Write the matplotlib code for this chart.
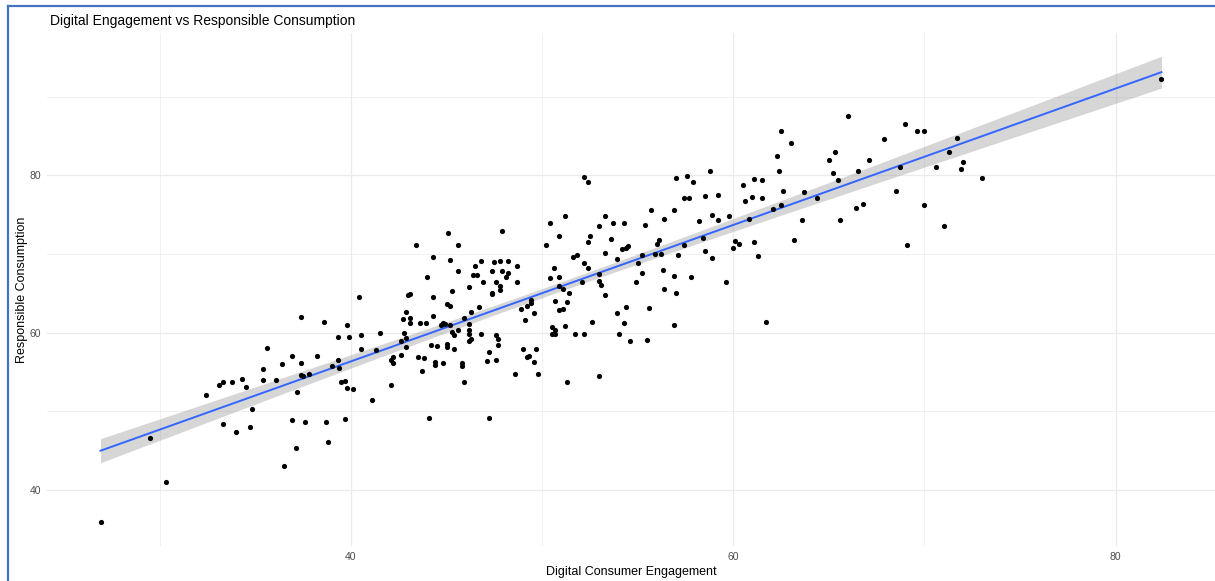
import numpy as np
import matplotlib
matplotlib.use("Agg")
import matplotlib.pyplot as plt
import matplotlib.lines as mlines

plt.rcParams['font.family'] = ['Liberation Sans', 'DejaVu Sans']

# Digital Consumer Engagement / Responsible Consumption
engagement = [
    26.9, 29.5, 30.3, 32.4, 33.1, 33.3, 33.8, 34.3, 34.5, 33.3, 34.0, 34.7, 34.8, 35.4, 35.6, 35.4, 36.1, 36.4, 36.5,
    37.1, 38.8,
    43.4, 40.4, 43.0, 43.1, 37.4, 38.6, 39.8, 42.9, 42.7, 43.1, 43.1, 43.6, 39.3, 39.9, 40.5, 41.5, 42.8, 42.6, 42.9,
    42.9, 40.5, 41.3, 36.9, 38.2, 37.4, 39.3, 39.0, 39.4, 42.6, 42.1, 42.2, 42.2, 43.5, 37.4, 37.5, 37.8, 37.2, 39.5,
    39.7, 39.8, 40.1, 42.1, 41.1, 36.9, 37.6, 38.7, 39.7,
    45.1, 47.9, 45.6, 44.3, 45.2, 46.8, 47.5, 47.8, 48.2, 46.5, 44.0, 45.6, 46.4, 46.6, 47.4, 47.9, 48.2, 48.1, 48.7,
    46.9, 47.6, 48.7, 46.2, 47.8, 47.8, 47.4, 47.4, 45.3, 44.3, 45.0, 45.2, 46.7, 44.3, 46.3, 45.9, 43.9, 44.8, 44.9,
    44.7, 46.2, 45.2,
    45.3, 45.4, 45.6, 46.2, 46.2, 46.8, 47.6, 47.7, 47.7, 46.2, 46.3, 44.2, 44.5, 45.0, 45.0, 45.4, 47.2, 43.8, 44.4,
    44.4, 44.8, 45.8, 45.8, 47.1, 47.6, 43.7, 45.9, 48.6, 44.1, 47.2,
    52.2, 52.4, 50.4, 51.2, 53.3, 53.0, 53.7, 50.9, 52.5, 52.4, 53.6, 50.2, 53.3, 53.9, 51.6, 51.8, 52.2, 52.4, 50.6,
    50.4, 50.9, 53.0,
    50.9, 51.1, 52.1, 53.0, 53.1, 51.4, 53.3, 49.4, 49.4, 49.2, 48.9, 50.7, 51.3, 50.9, 51.1, 49.6, 49.1, 53.9, 52.6,
    51.2, 50.5, 50.7, 50.5, 50.7, 51.7, 52.2, 54.0, 49.0, 49.7, 49.2, 49.3, 49.6, 49.8, 51.3, 53.0,
    57.0, 57.6, 57.9, 58.8, 57.4, 57.7, 58.5, 59.2, 55.7, 56.9, 56.4, 54.3, 55.4, 58.2, 58.9, 59.2, 54.2, 54.4, 54.5,
    56.0, 56.1, 58.4, 57.4, 58.5, 58.9, 55.2, 55.9, 56.2, 57.1, 55.0, 54.9, 55.2, 56.3, 56.9, 57.8, 56.4, 57.0, 54.4,
    55.6, 54.3, 56.9, 54.6, 55.5,
    66.0, 62.5, 63.0, 62.3, 62.4, 65.3, 65.0, 65.2, 67.1, 66.5, 65.5, 61.1, 61.5, 60.5, 60.6, 61.0, 61.5, 62.6, 63.7,
    64.4, 62.5, 62.1, 60.8, 59.8, 63.6, 65.6, 66.4, 66.8, 60.1, 60.3, 60.0, 61.1, 61.3, 63.2, 59.6, 61.7,
    69.0, 69.6, 70.0, 67.9, 68.7, 71.7, 71.3, 70.6, 72.0, 71.9, 73.0, 68.5, 70.0, 71.0, 69.1,
    82.4,
]
consumption = [
    35.9, 46.6, 41.0, 52.1, 53.3, 53.7, 53.7, 54.1, 53.1, 48.4, 47.4, 48.0, 50.3, 55.4, 58.1, 54.0, 54.0, 56.0, 43.1,
    45.4, 46.1,
    71.2, 64.5, 64.8, 64.9, 62.0, 61.4, 61.0, 62.7, 61.8, 61.9, 61.3, 61.3, 59.4, 59.5, 59.7, 60.0, 60.0, 58.9, 59.3,
    58.2, 57.9, 57.8, 57.1, 57.1, 56.2, 56.5, 55.8, 55.5, 57.2, 56.6, 56.9, 56.2, 56.9, 54.6, 54.5, 54.7, 52.5, 53.8,
    53.9, 53.0, 52.9, 53.4, 51.5, 48.9, 48.6, 48.7, 49.1,
    72.7, 72.9, 71.2, 69.6, 69.2, 69.1, 69.0, 69.1, 69.1, 68.5, 67.1, 67.8, 67.3, 67.4, 67.8, 67.9, 67.6, 67.1, 68.5,
    66.5, 66.4, 66.5, 65.8, 66.0, 65.4, 65.0, 64.9, 65.3, 64.6, 63.7, 63.4, 63.3, 62.1, 62.6, 61.9, 61.3, 61.3, 61.1,
    61.0, 61.1, 61.0,
    60.1, 59.7, 60.4, 59.9, 60.3, 59.8, 59.7, 59.2, 58.4, 58.9, 59.2, 58.4, 58.3, 58.6, 58.2, 57.9, 57.5, 56.8, 56.3,
    55.9, 56.1, 56.1, 55.8, 56.4, 56.5, 55.2, 53.7, 54.7, 49.2, 49.2,
    79.8, 79.1, 73.9, 74.9, 74.9, 73.6, 73.9, 72.3, 72.3, 71.5, 71.9, 71.1, 70.2, 69.4, 69.6, 69.9, 68.9, 68.2, 68.2,
    67.0, 67.1, 67.5,
    66.0, 65.6, 66.5, 66.6, 66.1, 65.0, 64.8, 64.2, 63.8, 63.4, 63.0, 64.1, 63.9, 62.9, 63.0, 62.5, 61.6, 62.5, 61.4,
    60.8, 60.7, 60.4, 59.9, 59.8, 59.9, 59.8, 59.9, 58.0, 58.0, 56.9, 57.1, 56.3, 54.7, 53.7, 54.5,
    79.7, 79.9, 79.2, 80.5, 77.1, 77.1, 77.4, 77.5, 75.6, 75.6, 74.5, 73.9, 73.7, 74.2, 75.0, 74.3, 70.6, 70.8, 71.0,
    71.3, 71.8, 72.1, 71.1, 70.4, 69.5, 69.9, 70.0, 70.0, 69.9, 68.9, 66.5, 67.6, 68.0, 67.2, 67.1, 65.5, 65.0, 63.3,
    63.1, 61.3, 61.0, 59.0, 59.1,
    87.6, 85.6, 84.1, 82.5, 80.5, 83.0, 82.0, 80.3, 82.0, 80.6, 79.4, 79.6, 79.4, 78.8, 76.8, 77.2, 77.1, 78.0, 77.9,
    77.1, 76.3, 75.7, 74.5, 74.9, 74.3, 74.3, 75.8, 76.4, 71.7, 71.3, 70.8, 71.5, 69.8, 71.8, 66.4, 61.4,
    86.5, 85.6, 85.6, 84.6, 81.1, 84.8, 83.0, 81.1, 81.7, 80.8, 79.7, 78.0, 76.2, 73.6, 71.1,
    92.3,
]

x = np.array(engagement)
y = np.array(consumption)

# linear fit with 95% confidence band (like geom_smooth(method = "lm"))
n = len(x)
slope, intercept = np.polyfit(x, y, 1)
resid = y - (slope * x + intercept)
s = np.sqrt(np.sum(resid ** 2) / (n - 2))
xs = np.linspace(x.min(), x.max(), 80)
fit = slope * xs + intercept
se = s * np.sqrt(1.0 / n + (xs - x.mean()) ** 2 / np.sum((x - x.mean()) ** 2))
t = 1.968

fig = plt.figure(figsize=(12.15, 5.81), dpi=100)
ax = fig.add_axes([47 / 1215, 1 - 546 / 581, 1168 / 1215, 513 / 581])

ax.fill_between(xs, fit - t * se, fit + t * se, color='#999999', alpha=0.4, lw=0, zorder=2)
ax.plot(xs, fit, color='#3366FF', lw=1.4, zorder=3)
ax.scatter(x, y, s=14, color='black', lw=0, zorder=4)

ax.set_xlim(24.1, 85.2)
ax.set_ylim(32.9, 98.1)
ax.set_xticks([40, 60, 80])
ax.set_yticks([40, 60, 80])
ax.set_xticks([30, 50, 70], minor=True)
ax.set_yticks([50, 70, 90], minor=True)
ax.grid(which='major', color='#ebebeb', lw=0.9, zorder=0)
ax.grid(which='minor', color='#ebebeb', lw=0.5, zorder=0)
ax.set_axisbelow(True)
for sp in ax.spines.values():
    sp.set_visible(False)
ax.tick_params(which='both', length=0, labelsize=7.5, labelcolor='#4d4d4d')
ax.tick_params(axis='x', pad=4)
ax.tick_params(axis='y', pad=4)

ax.set_xlabel('Digital Consumer Engagement', fontsize=9, labelpad=3)
ax.set_ylabel('Responsible Consumption', fontsize=9)
ax.yaxis.set_label_coords(-0.0163, 0.5)
fig.text(50 / 1215, 1 - 21 / 581, 'Digital Engagement vs Responsible Consumption',
         fontsize=10, va='center', ha='left')

# blue frame of the screenshot
fig.add_artist(mlines.Line2D([8 / 1215, 8 / 1215], [0, 1 - 6 / 581],
                             color='#4472C4', lw=1.6, transform=fig.transFigure))
fig.add_artist(mlines.Line2D([8 / 1215, 1], [1 - 6 / 581, 1 - 6 / 581],
                             color='#4472C4', lw=1.6, transform=fig.transFigure))

fig.savefig('out.png', dpi=100)
